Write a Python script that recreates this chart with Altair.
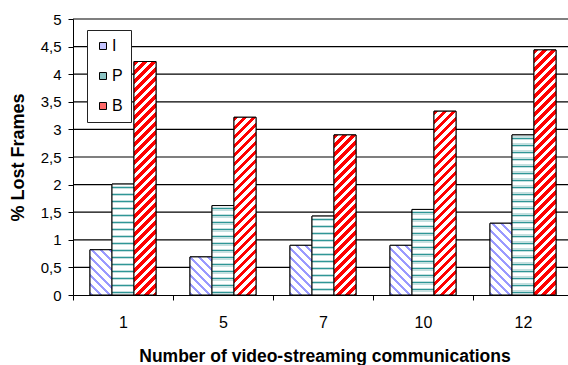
import altair as alt
import pandas as pd

# Lost frames (%) per frame type, for each number of concurrent video streams
groups = ["1", "5", "7", "10", "12"]
frame_types = ["I", "P", "B"]
i_vals = [0.82, 0.69, 0.90, 0.90, 1.30]
p_vals = [2.01, 1.62, 1.43, 1.55, 2.90]
b_vals = [4.23, 3.22, 2.90, 3.33, 4.44]
y_ticks = [0, 0.5, 1, 1.5, 2, 2.5, 3, 3.5, 4, 4.5, 5]

rows = []
for g, vi, vp, vb in zip(groups, i_vals, p_vals, b_vals):
    rows += [
        {"group": g, "ftype": "I", "value": vi},
        {"group": g, "ftype": "P", "value": vp},
        {"group": g, "ftype": "B", "value": vb},
    ]
df = pd.DataFrame(rows)
grid_df = pd.DataFrame({"value": y_ticks[1:]})

# geometry of the plot area
PLOT_W, PLOT_H = 500, 276
Y_MAX = 5
OFFSET_PAD = 0.773
BAR_W = PLOT_W / len(groups) / (len(frame_types) + 2 * OFFSET_PAD)

BLUE = "#9a9aff"
TEAL = "#2f9696"
TEAL_LIGHT = "#c4e0e0"
RED = "#ff0000"
FONT = "Liberation Sans"


def banded_stops(span, period, bands, phase=0.0):
    """Hard-edged gradient stops repeating `bands` [(start, end, color)] every `period` px."""
    stops = [{"offset": 0.0, "color": "white"}]
    pos = phase
    while pos < span:
        for start, end, color in bands:
            a = (pos + start) / span
            b = (pos + end) / span
            if a >= 1:
                continue
            a = max(a, 0.0)
            b = min(b, 1.0)
            stops += [
                {"offset": a, "color": "white"},
                {"offset": a, "color": color},
                {"offset": b, "color": color},
                {"offset": b, "color": "white"},
            ]
        pos += period
    stops.append({"offset": 1.0, "color": "white"})
    return stops


def bar_fill(ftype, value):
    w = BAR_W
    h = value / Y_MAX * PLOT_H
    r = h / w
    a = (1 + r) / (1 + r * r)
    if ftype == "B":  # red "/" hatching
        return {"gradient": "linear", "x1": 0, "y1": 0, "x2": a, "y2": a * r,
                "stops": banded_stops(w + h, 9.0, [(0, 4.5, RED)])}
    if ftype == "I":  # light blue "\" hatching
        return {"gradient": "linear", "x1": 0, "y1": 1, "x2": a, "y2": 1 - a * r,
                "stops": banded_stops(w + h, 9.0, [(0, 3.5, BLUE)])}
    # teal wavy lines
    return {"gradient": "linear", "x1": 0, "y1": 0, "x2": 0, "y2": 1,
            "stops": banded_stops(h, 7.0, [(1.5, 2.8, TEAL_LIGHT), (2.8, 3.9, TEAL),
                                           (3.9, 5.2, TEAL_LIGHT)])}


x_enc = alt.X(
    "group:N",
    sort=groups,
    scale=alt.Scale(domain=groups, paddingInner=0, paddingOuter=0),
    axis=alt.Axis(
        title="Number of video-streaming communications",
        labelAngle=0,
        labelFont=FONT,
        labelFontSize=16,
        labelColor="black",
        labelPadding=14,
        tickBand="extent",
        tickSize=5,
        tickColor="black",
        domainColor="black",
        titleFont=FONT,
        titleFontSize=17.5,
        titleFontWeight="bold",
        titleColor="black",
        titleX=251.5,
        titleY=66,
        titleAlign="center",
        titleBaseline="alphabetic",
        grid=False,
    ),
)
xoff_enc = alt.XOffset(
    "ftype:N",
    sort=frame_types,
    scale=alt.Scale(domain=frame_types, paddingInner=0, paddingOuter=OFFSET_PAD),
)
y_scale = alt.Scale(domain=[0, Y_MAX], nice=False)
y_axis = alt.Axis(
    title="% Lost Frames",
    values=y_ticks,
    labelExpr="replace(toString(datum.value), '.', ',')",
    labelFont=FONT,
    labelFontSize=15,
    labelColor="black",
    labelPadding=7,
    labelOverlap=False,
    tickSize=5,
    tickColor="black",
    domainColor="black",
    grid=False,
    titleFont=FONT,
    titleFontSize=18,
    titleFontWeight="bold",
    titleColor="black",
    titleAngle=270,
    titleX=-54.5,
    titleY=138,
    titleAlign="center",
    titleBaseline="middle",
)
y_enc = alt.Y("value:Q", scale=y_scale, axis=y_axis)

# horizontal gridlines across the plot, behind the bars
grid = alt.Chart(grid_df).mark_rule(color="black", strokeWidth=1.2).encode(
    y=alt.Y("value:Q", scale=y_scale, axis=y_axis),
)

base = alt.Chart(df).encode(x=x_enc, xOffset=xoff_enc, y=y_enc)

# solid bars carrying the legend; hatched bars are drawn over them
legend_bars = base.mark_bar(stroke="black", strokeWidth=1).encode(
    fill=alt.Fill(
        "ftype:N",
        sort=frame_types,
        scale=alt.Scale(domain=frame_types, range=["#c4c4ff", "#8cc4c4", "#ff6a6a"]),
        legend=alt.Legend(
            title=None,
            orient="none",
            legendX=14,
            legendY=11,
            symbolType="square",
            symbolSize=49,
            symbolStrokeColor="black",
            symbolStrokeWidth=1,
            symbolOpacity=1,
            labelFont=FONT,
            labelFontSize=16,
            labelColor="black",
            labelOffset=1,
            rowPadding=14,
            padding=8,
            fillColor="white",
            strokeColor="#222222",
            cornerRadius=0,
        ),
    )
)

hatched = []
for rec in rows:
    hatched.append(
        base.transform_filter(
            f"datum.group === '{rec['group']}' && datum.ftype === '{rec['ftype']}'"
        ).mark_bar(
            fill=bar_fill(rec["ftype"], rec["value"]),
            stroke="black",
            strokeWidth=1,
        )
    )

chart = (
    alt.layer(grid, legend_bars, *hatched)
    .properties(
        width=PLOT_W,
        height=PLOT_H,
        autosize=alt.AutoSizeParams(type="none"),
        padding={"left": 73, "top": 19, "right": -5, "bottom": 70},
        background="white",
    )
    .configure_view(stroke=None)
)

chart.save("out.html", embed_options={"renderer": "svg", "actions": False})
